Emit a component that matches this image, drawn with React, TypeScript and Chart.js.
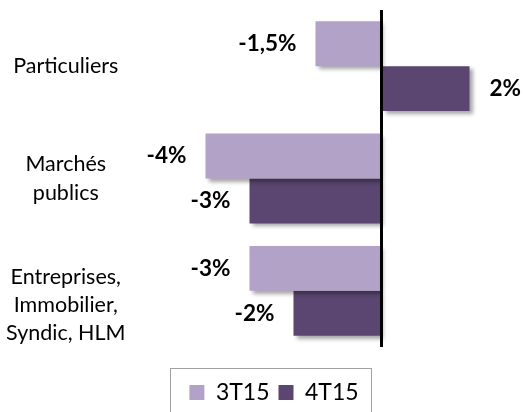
import React, { useEffect, useRef } from "react";
import { Chart, registerables } from "chart.js";

Chart.register(...registerables);

const categories: (string | string[])[] = [
  "Particuliers",
  ["Marchés", "publics"],
  ["", "Entreprises,", "Immobilier,", "Syndic, HLM"],
];
const seriesNames = ["3T15", "4T15"];
const values3T15 = [-1.5, -4, -3];
const values4T15 = [2, -3, -2];
const colors = ["#b3a2c7", "#5b4571"];

const fmt = (v: number) => String(v).replace(".", ",") + "%";

const shadowAndLabels = {
  id: "shadowAndLabels",
  afterLayout(chart: any) {
    if (chart.legend) {
      chart.legend.left = 34.5;
    }
  },
  beforeDatasetsDraw(chart: any) {
    const ctx = chart.ctx;
    ctx.save();
    ctx.shadowColor = "rgba(0,0,0,0.35)";
    ctx.shadowBlur = 4;
    ctx.shadowOffsetX = 3;
    ctx.shadowOffsetY = 3;
  },
  afterDatasetsDraw(chart: any) {
    const ctx = chart.ctx;
    ctx.restore();
    ctx.save();
    ctx.font = "bold 22.5px Lato";
    ctx.fillStyle = "#000";
    ctx.textBaseline = "middle";
    chart.data.datasets.forEach((ds: any, di: number) => {
      const meta = chart.getDatasetMeta(di);
      meta.data.forEach((el: any, i: number) => {
        const v = ds.data[i];
        const neg = v < 0;
        ctx.textAlign = neg ? "right" : "left";
        ctx.fillText(fmt(v), neg ? el.x - 19 : el.x + 20, el.y);
      });
    });
    ctx.restore();
  },
  afterDraw(chart: any) {
    const hb = chart.legend && chart.legend.legendHitBoxes;
    if (!hb || !hb.length) return;
    const ctx = chart.ctx;
    const first = hb[0];
    const last = hb[hb.length - 1];
    const left = first.left - 19;
    const right = last.left + last.width + 13;
    const top = first.top - 13;
    ctx.save();
    ctx.strokeStyle = "#a0a0a0";
    ctx.lineWidth = 1;
    ctx.strokeRect(Math.round(left) + 0.5, Math.round(top) + 0.5, Math.round(right - left), 100);
    ctx.restore();
  },
};

export default function App() {
  const ref = useRef<HTMLCanvasElement>(null);
  useEffect(() => {
    if (!ref.current) return;
    const chart = new Chart(ref.current, {
      type: "bar",
      data: {
        labels: categories,
        datasets: [
          {
            label: seriesNames[0],
            data: values3T15,
            backgroundColor: colors[0],
            categoryPercentage: 0.8,
            barPercentage: 1.0,
          },
          {
            label: seriesNames[1],
            data: values4T15,
            backgroundColor: colors[1],
            categoryPercentage: 0.8,
            barPercentage: 1.0,
          },
        ],
      },
      options: {
        indexAxis: "y",
        responsive: false,
        animation: false,
        layout: { padding: { left: 0, right: 10.5, top: 10, bottom: 16 } },
        scales: {
          x: {
            type: "linear",
            min: -4.5,
            max: 3,
            z: 1,
            ticks: { display: false, stepSize: 0.5 },
            grid: {
              color: (c: any) => (c.tick && c.tick.value === 0 ? "#000" : "transparent"),
              lineWidth: 3,
              drawTicks: true,
              tickLength: 25,
              tickColor: "transparent",
            },
            border: { display: false },
          },
          y: {
            grid: { display: false, drawTicks: false },
            border: { display: false },
            ticks: {
              autoSkip: false,
              crossAlign: "center",
              padding: 58,
              color: "#000",
              font: { family: "Lato", size: 21.5, lineHeight: 1.32 },
            },
            afterFit: (s: any) => {
              s.width = 183.5;
              s.paddingTop = 0;
              s.paddingBottom = 0;
            },
          },
        },
        plugins: {
          tooltip: { enabled: false },
          legend: {
            position: "bottom",
            labels: {
              boxWidth: 15,
              boxHeight: 15,
              padding: 9,
              color: "#000",
              font: { family: "Lato", size: 23 },
            },
          },
        },
      },
      plugins: [shadowAndLabels],
    });
    return () => chart.destroy();
  }, []);
  return (
    <div
      style={{
        position: "fixed",
        left: 0,
        top: 0,
        width: 524,
        height: 412,
        overflow: "hidden",
        background: "#fff",
      }}
    >
      <canvas ref={ref} width={524} height={430} style={{ display: "block" }} />
    </div>
  );
}
